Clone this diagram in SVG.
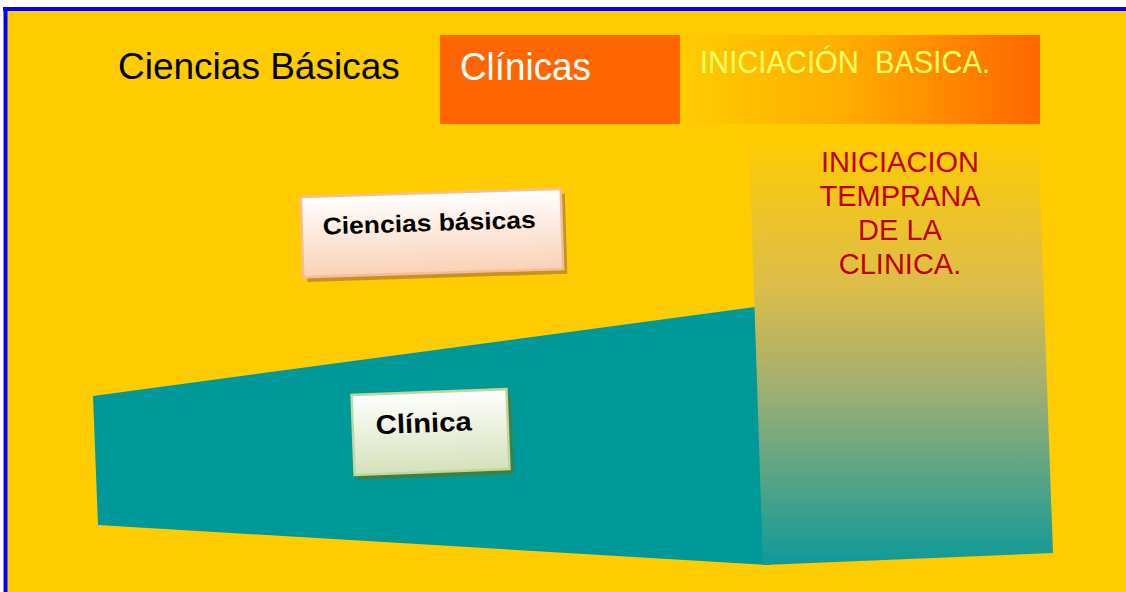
<svg xmlns="http://www.w3.org/2000/svg" width="1126" height="592" viewBox="0 0 1126 592">
<defs>
<style>
.sans{font-family:"Liberation Sans",Arial,sans-serif}
.bold{font-family:"Liberation Sans",Arial,sans-serif;font-weight:bold;fill:#000}
.red{font-family:"Liberation Sans",Arial,sans-serif;fill:#C00000;font-size:29px;text-anchor:middle}
</style>
<linearGradient id="gIni" x1="0" y1="0" x2="1" y2="0">
<stop offset="0" stop-color="#FFCC00"/>
<stop offset="0.45" stop-color="#FFAE00"/>
<stop offset="1" stop-color="#FF6600"/>
</linearGradient>
<linearGradient id="gTemp" x1="0" y1="0" x2="0" y2="1">
<stop offset="0" stop-color="#FFCC00"/>
<stop offset="0.35" stop-color="#DDBD4A"/>
<stop offset="0.6" stop-color="#9EAE72"/>
<stop offset="1" stop-color="#0E9A99"/>
</linearGradient>
<linearGradient id="gPeach" x1="0" y1="0" x2="0" y2="1">
<stop offset="0" stop-color="#FFFFFF"/>
<stop offset="1" stop-color="#F9D2B6"/>
</linearGradient>
<linearGradient id="gGreen" x1="0" y1="0" x2="0" y2="1">
<stop offset="0" stop-color="#FFFFFF"/>
<stop offset="1" stop-color="#D5E2BA"/>
</linearGradient>
</defs>
<rect x="0" y="0" width="1126" height="592" fill="#FFFFFF"/>
<rect x="5" y="9" width="1121" height="583" fill="#FFCC00"/>
<line x1="3" y1="9" x2="1126" y2="9" stroke="#0000FF" stroke-width="4"/>
<line x1="5.5" y1="7" x2="5.5" y2="592" stroke="#0000FF" stroke-width="4"/>

<g id="clinica-band">
<polygon points="93,396 755,307 770,565 98,525" fill="#009999"/>
</g>
<g id="iniciacion-temprana">
<polygon points="749,140 1038,135 1053,553 763,565" fill="url(#gTemp)"/>
<text class="red" x="900" y="172">INICIACION</text>
<text class="red" x="900" y="206">TEMPRANA</text>
<text class="red" x="900" y="240">DE LA</text>
<text class="red" x="900" y="274">CLINICA.</text>
</g>

<g id="title-ciencias">
<text class="sans" x="118" y="79" font-size="37" fill="#000">Ciencias Básicas</text>
</g>
<g id="title-clinicas">
<rect x="440" y="35" width="240" height="89" fill="#FF6600"/>
<text class="sans" x="460" y="80" font-size="38" fill="#FFFFFF" textLength="131" lengthAdjust="spacingAndGlyphs">Clínicas</text>
</g>
<g id="title-iniciacion">
<rect x="680" y="35" width="360" height="89" fill="url(#gIni)"/>
<text class="sans" x="700" y="73" font-size="31" fill="#FFFF66" xml:space="preserve" style="white-space:pre" textLength="290" lengthAdjust="spacingAndGlyphs">INICIACIÓN  BASICA.</text>
</g>

<g id="box-ciencias" transform="rotate(-1.8 433 234)">
<rect x="306" y="198" width="260" height="80" fill="#B08030" opacity="0.75"/>
<rect x="302" y="193" width="260" height="80" fill="url(#gPeach)" stroke="#F6BE96" stroke-width="2.5"/>
<text class="bold" x="323" y="231" font-size="24" textLength="213" lengthAdjust="spacingAndGlyphs">Ciencias básicas</text>
</g>
<g id="box-clinica" transform="rotate(-2.2 432 432)">
<rect x="357" y="397" width="155" height="80" fill="#4E7A2E" opacity="0.8"/>
<rect x="353" y="392" width="155" height="80" fill="url(#gGreen)" stroke="#C3D69B" stroke-width="2.5"/>
<text class="bold" x="376" y="432" font-size="27" textLength="96" lengthAdjust="spacingAndGlyphs">Clínica</text>
</g>
<g id="connectors"/>
</svg>
